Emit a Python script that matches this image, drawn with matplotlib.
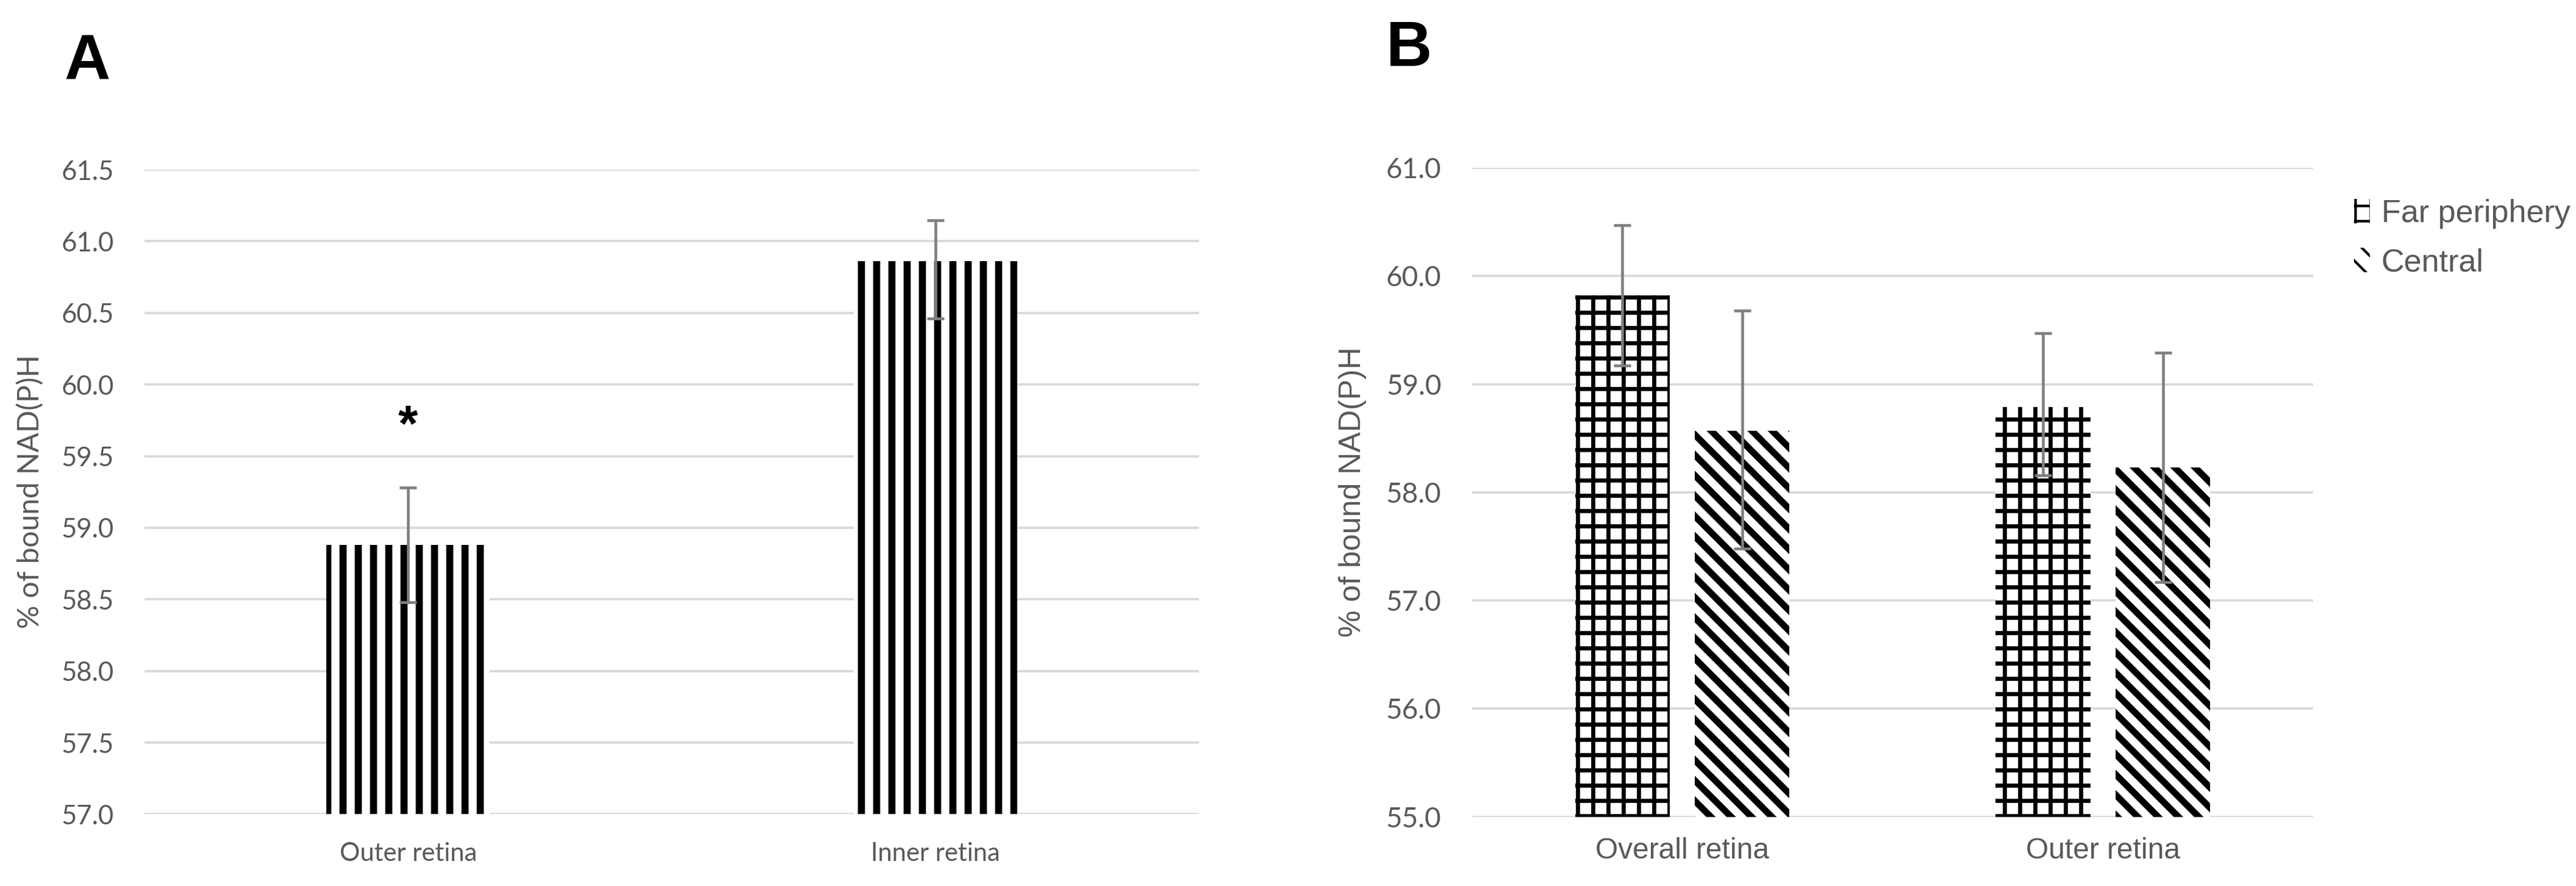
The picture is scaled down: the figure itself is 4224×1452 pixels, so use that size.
import matplotlib
matplotlib.use("Agg")
import matplotlib.pyplot as plt
from matplotlib.patches import Patch

# Panel A data
regions_a = ["Outer retina", "Inner retina"]
bound_a = [58.88, 60.86]
err_a_low = [0.40, 0.40]
err_a_high = [0.40, 0.285]

# Panel B data
regions_b = ["Overall retina", "Outer retina"]
far_periphery = [59.82, 58.79]
central = [58.57, 58.23]
far_err_low = [0.65, 0.63]
far_err_high = [0.65, 0.68]
central_err_low = [1.09, 1.06]
central_err_high = [1.11, 1.06]

ticks_a = [57.0, 57.5, 58.0, 58.5, 59.0, 59.5, 60.0, 60.5, 61.0, 61.5]
ticks_b = [55.0, 56.0, 57.0, 58.0, 59.0, 60.0, 61.0]

GREY_TXT = "#595959"
GRID = "#d9d9d9"
ERR = "#7f7f7f"
TICKFONT = ["Lato", "DejaVu Sans"]
SANS = ["Liberation Sans", "DejaVu Sans"]


def hatched_bars(ax, x, h, w, hatch, hlw, **kw):
    with plt.rc_context({"hatch.linewidth": hlw}):
        bars = ax.bar(x, h, w, color="white", edgecolor="black",
                      linewidth=0, hatch=hatch, zorder=2, **kw)
    for b in bars:
        if hasattr(b, "set_hatch_linewidth"):
            b.set_hatch_linewidth(hlw)
    return bars


def style_axis(ax, ticks, fs):
    for s in ax.spines.values():
        s.set_visible(False)
    ax.set_axisbelow(True)
    ax.yaxis.grid(True, color=GRID, linewidth=0.9)
    ax.set_yticks(ticks)
    ax.set_yticklabels([f"{t:.1f}" for t in ticks], family=TICKFONT,
                       fontsize=fs, color=GREY_TXT)
    ax.tick_params(axis="both", length=0)
    ax.tick_params(axis="y", pad=12)


fig = plt.figure(figsize=(14.08, 4.84), dpi=300)

# ---- Panel A
axA = fig.add_axes([0.0561, 0.081, 0.4094, 0.7275])
xa = list(range(len(regions_a)))
hatched_bars(axA, xa, bound_a, 0.31, "||", 2.8)
axA.errorbar(xa, bound_a, yerr=[err_a_low, err_a_high], fmt="none",
             ecolor=ERR, elinewidth=1.1, capsize=3.3, capthick=1.1, zorder=3)
axA.set_xlim(-0.5, 1.5)
axA.set_ylim(57.0, 61.5)
style_axis(axA, ticks_a, 10.5)
axA.set_xticks(xa)
axA.set_xticklabels(regions_a, family=TICKFONT, fontsize=10, color=GREY_TXT)
axA.tick_params(axis="x", pad=11)
axA.text(xa[0], 59.70, "*", ha="center", va="center", fontsize=20,
         fontweight="bold", family="Liberation Sans", color="black")
fig.text(0.0118, 0.445, "% of bound NAD(P)H", rotation=90, ha="center",
         va="center", family=TICKFONT, fontsize=11.5, color=GREY_TXT)
fig.text(0.0249, 0.911, "A", ha="left", va="baseline", fontsize=25,
         fontweight="bold", family="Liberation Sans", color="black")

# ---- Panel B
axB = fig.add_axes([0.5714, 0.078, 0.3266, 0.7326])
xb = list(range(len(regions_b)))
w = 0.225
off = 0.1425
xf = [x - off for x in xb]
xc = [x + off for x in xb]
hatched_bars(axB, xf, far_periphery, w, "++", 1.6)
hatched_bars(axB, xc, central, w, "\\\\\\", 2.6)
axB.errorbar(xf, far_periphery, yerr=[far_err_low, far_err_high], fmt="none",
             ecolor=ERR, elinewidth=1.1, capsize=3.3, capthick=1.1, zorder=3)
axB.errorbar(xc, central, yerr=[central_err_low, central_err_high], fmt="none",
             ecolor=ERR, elinewidth=1.1, capsize=3.3, capthick=1.1, zorder=3)
axB.set_xlim(-0.5, 1.5)
axB.set_ylim(55.0, 61.0)
style_axis(axB, ticks_b, 11)
axB.set_xticks(xb)
axB.set_xticklabels(regions_b, family=SANS, fontsize=11.5, color=GREY_TXT)
axB.tick_params(axis="x", pad=8)
fig.text(0.525, 0.445, "% of bound NAD(P)H", rotation=90, ha="center",
         va="center", family=SANS, fontsize=12, color=GREY_TXT)
fig.text(0.538, 0.9256, "B", ha="left", va="baseline", fontsize=25,
         fontweight="bold", family="Liberation Sans", color="black")

with plt.rc_context({"hatch.linewidth": 1.6}):
    h1 = Patch(facecolor="white", edgecolor="black", linewidth=0, hatch="++",
               label="Far periphery")
with plt.rc_context({"hatch.linewidth": 2.6}):
    h2 = Patch(facecolor="white", edgecolor="black", linewidth=0,
               hatch="\\\\\\", label="Central")
leg = fig.legend(handles=[h1, h2], loc="upper left",
                 bbox_to_anchor=(0.909, 0.79), frameon=False,
                 prop={"family": SANS, "size": 12.5},
                 handlelength=0.5, handleheight=0.8, handletextpad=0.35,
                 labelspacing=0.6, borderaxespad=0)
for t in leg.get_texts():
    t.set_color(GREY_TXT)

fig.savefig("out.png", dpi=300, facecolor="white")
